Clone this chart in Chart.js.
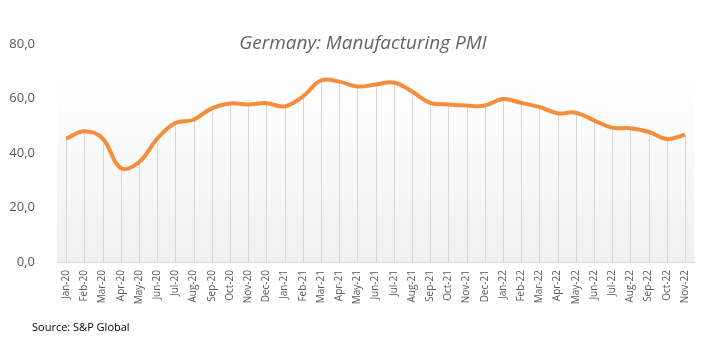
<!DOCTYPE html>
<html>
<head>
<meta charset="utf-8">
<script src="https://cdn.jsdelivr.net/npm/chart.js@4.4.0/dist/chart.umd.min.js"></script>
<style>
html,body{margin:0;padding:0;background:#fff;}
#wrap{width:713px;height:355px;position:relative;}
</style>
</head>
<body>
<div id="wrap"><canvas id="c" width="713" height="355"></canvas></div>
<script>
const categories = ["Jan-20","Feb-20","Mar-20","Apr-20","May-20","Jun-20","Jul-20","Aug-20","Sep-20","Oct-20","Nov-20","Dec-20",
  "Jan-21","Feb-21","Mar-21","Apr-21","May-21","Jun-21","Jul-21","Aug-21","Sep-21","Oct-21","Nov-21","Dec-21",
  "Jan-22","Feb-22","Mar-22","Apr-22","May-22","Jun-22","Jul-22","Aug-22","Sep-22","Oct-22","Nov-22"];
const pmiValues = [45.3,48.0,45.4,34.5,36.6,45.2,51.0,52.2,56.4,58.2,57.8,58.3,
  57.1,60.7,66.6,66.2,64.4,65.1,65.9,62.6,58.4,57.8,57.4,57.4,
  59.8,58.4,56.9,54.6,54.8,52.0,49.3,49.1,47.8,45.1,46.7];
const yTicks = [0,20,40,60,80];
const titleText = "Germany: Manufacturing PMI";
const sourceText = "Source: S&P Global";

const bgPlugin = {
  id:'bg',
  beforeDraw(chart){
    const {ctx, chartArea:a} = chart;
    const g = ctx.createLinearGradient(0,a.top,0,a.bottom);
    g.addColorStop(0,'#ffffff');
    g.addColorStop(0.15,'#ffffff');
    g.addColorStop(1,'#f0f0f0');
    ctx.save();
    ctx.fillStyle = g;
    ctx.fillRect(a.left,a.top,a.right-a.left,a.bottom-a.top);
    ctx.restore();
  },
  beforeDatasetsDraw(chart){
    const {ctx} = chart;
    const meta = chart.getDatasetMeta(0);
    const yb = chart.scales.y.getPixelForValue(0);
    ctx.save();
    ctx.strokeStyle = '#d6d6d6';
    ctx.lineWidth = 1;
    meta.data.forEach(p=>{
      const x = Math.round(p.x)+0.5;
      ctx.beginPath();
      ctx.moveTo(x,p.y);
      ctx.lineTo(x,yb);
      ctx.stroke();
    });
    ctx.restore();
  },
  afterDraw(chart){
    const {ctx} = chart;
    ctx.save();
    ctx.fillStyle = '#636363';
    ctx.font = 'italic 19px "Open Sans"';
    ctx.textAlign = 'center';
    ctx.textBaseline = 'middle';
    ctx.fillText(titleText, 363, 44);
    ctx.fillStyle = '#000';
    ctx.font = '11px "Open Sans"';
    ctx.textAlign = 'left';
    ctx.fillText(sourceText, 32, 328);
    ctx.restore();
  }
};

new Chart(document.getElementById('c'), {
  type:'line',
  data:{
    labels:categories,
    datasets:[{
      data:pmiValues,
      borderColor:'#f68d3c',
      borderWidth:4,
      pointRadius:0,
      tension:0.4,
      fill:false
    }]
  },
  options:{
    responsive:false,
    animation:false,
    layout:{padding:{left:0,right:19,top:44,bottom:0}},
    plugins:{legend:{display:false},tooltip:{enabled:false},title:{display:false}},
    scales:{
      x:{
        offset:true,
        grid:{display:false, drawTicks:false},
        border:{display:true,color:'#d9d9d9',width:1},
        ticks:{
          autoSkip:false,
          minRotation:90,maxRotation:90,
          color:'#595959',
          font:{family:'"Open Sans"',size:10},
          padding:8
        },
        afterFit(s){ s.height = 93; }
      },
      y:{
        min:0,max:80,
        afterBuildTicks(s){ s.ticks = yTicks.map(v=>({value:v})); },
        grid:{display:false},
        border:{display:false},
        ticks:{
          color:'#595959',
          font:{family:'"Open Sans"',size:13},
          padding:14,
          callback:v=>v.toFixed(1).replace('.',',')
        },
        afterFit(s){ s.width = 57; }
      }
    }
  },
  plugins:[bgPlugin]
});
</script>
</body>
</html>
